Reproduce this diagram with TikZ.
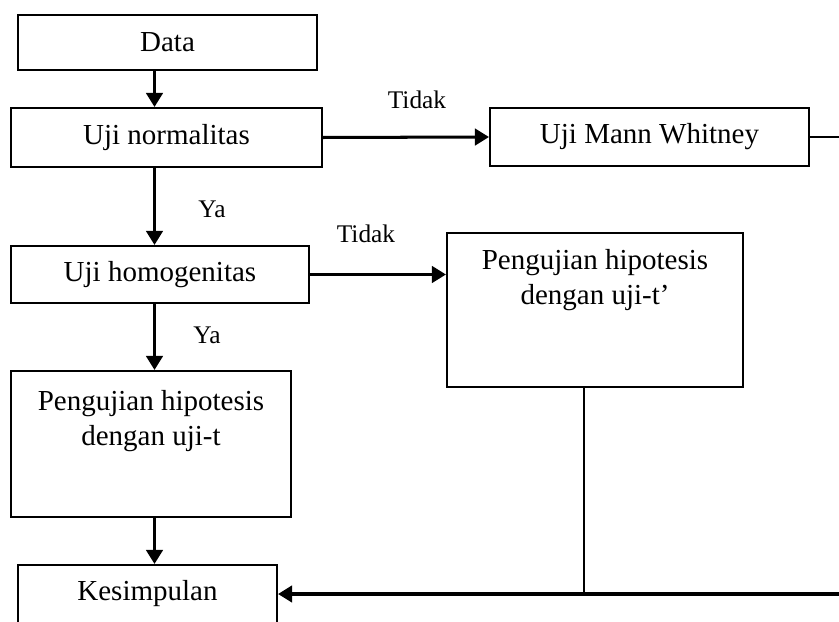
\documentclass[tikz,border=0pt]{standalone}
\usepackage{fontspec}
\setmainfont{Liberation Serif}
\usetikzlibrary{arrows.meta}

\begin{document}
\begin{tikzpicture}[x=0.4138pt, y=-0.4138pt,
    box/.style={draw, line width=0.85pt, inner sep=0pt, font=\fontsize{12}{14.5}\selectfont},
    boxtext/.style={align=center, font=\fontsize{12}{14.5}\selectfont},
    lbl/.style={font=\fontsize{10.5}{12}\selectfont},
    flow/.style={line width=1.25pt, -{Triangle[length=5.8pt,width=6.8pt]}}]

    \useasboundingbox (0,0) rectangle (839,622);
    \clip (0,0) rectangle (839,622);

    % Left column
    \node[box, minimum width=123.7pt, minimum height=22.8pt] (data) at (167.5,42.5) {Data};
    \node[box, minimum width=128.7pt, minimum height=24.4pt] (normal) at (166.5,137.5) {Uji normalitas};
    \node[box, minimum width=123.3pt, minimum height=23.6pt] (homog) at (160,274.5) {Uji homogenitas};
    \node[box, minimum width=115.9pt, minimum height=60.4pt] (ujit) at (151,444) {};
    \node[boxtext] (ujittext) at (151,421) {Pengujian hipotesis\\dengan uji-t};
    \node[box, minimum width=107.2pt, minimum height=24pt] (kesim) at (147.5,594) {Kesimpulan};

    % Right column
    \node[box, minimum width=132pt, minimum height=24pt] (mann) at (649.5,137) {Uji Mann Whitney};
    \node[box, minimum width=122.5pt, minimum height=63.7pt] (ujitp) at (595,310) {};
    \node[boxtext] (ujitptext) at (595,280.5) {Pengujian hipotesis\\dengan uji-t’};

    % Labels
    \node[lbl] (tidakA) at (417,100) {Tidak};
    \node[lbl] (yaA) at (212,209) {Ya};
    \node[lbl] (tidakB) at (366,234) {Tidak};
    \node[lbl] (yaB) at (207,335) {Ya};

    % Helper points
    \coordinate (col) at (154.5,0);
    \coordinate (dropx) at (584,0);
    \coordinate (mannout) at (839,137);
    \coordinate (kesimout) at (839,594);

    % Arrows
    \draw[flow] (data.south -| col) -- (normal.north -| col);
    \draw[flow] (normal.south -| col) -- (homog.north -| col);
    \draw[flow] (homog.south -| col) -- (ujit.north -| col);
    \draw[flow] (ujit.south -| col) -- (kesim.north -| col);
    \draw[flow] (normal.east) -- (mann.west);
    \draw[flow] (homog.east) -- (homog.east -| ujitp.west);
    \draw[line width=1pt] (mann.east) -- (mannout);
    \draw[line width=0.85pt] (ujitp.south -| dropx) -- (kesimout -| dropx);
    \draw[flow] (kesimout) -- (kesim.east);
\end{tikzpicture}
\end{document}
